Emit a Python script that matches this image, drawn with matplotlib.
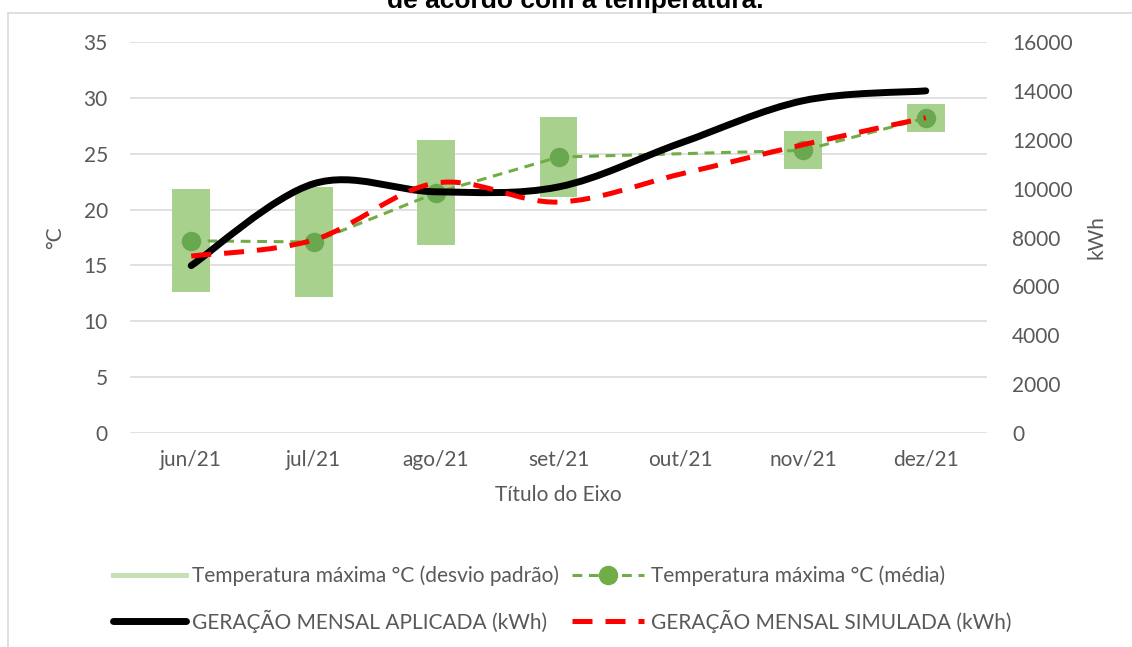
import matplotlib
matplotlib.use('Agg')
import matplotlib.pyplot as plt
import numpy as np
from matplotlib.path import Path
from matplotlib.patches import PathPatch, Rectangle
from matplotlib.lines import Line2D

# ---------------- data ----------------
months = ['jun/21', 'jul/21', 'ago/21', 'set/21', 'out/21', 'nov/21', 'dez/21']
temp_mean = [17.2, 17.1, 21.5, 24.7, np.nan, 25.3, 28.2]
temp_std = [4.6, 4.9, 4.7, 3.55, np.nan, 1.7, 1.25]
ger_aplicada = [6850, 10200, 9870, 10070, 11870, 13600, 14000]
ger_simulada = [7240, 7900, 10230, 9450, 10600, 11800, 12900]
temp_ticks = [0, 5, 10, 15, 20, 25, 30, 35]
kwh_ticks = [0, 2000, 4000, 6000, 8000, 10000, 12000, 14000, 16000]

lbl_std = 'Temperatura máxima °C (desvio padrão)'
lbl_mean = 'Temperatura máxima °C (média)'
lbl_apl = 'GERAÇÃO MENSAL APLICADA (kWh)'
lbl_sim = 'GERAÇÃO MENSAL SIMULADA (kWh)'

plt.rcParams['font.family'] = ['Lato', 'DejaVu Sans']

GRAY = '#595959'
GRID = '#D9D9D9'
BAR = '#A9D18E'
GREEN = '#70AD47'


def smooth_path(x, y):
    """Excel-like smoothed line as cubic Bezier segments."""
    x = np.asarray(x, float)
    y = np.asarray(y, float)
    n = len(x)
    verts = [(x[0], y[0])]
    codes = [Path.MOVETO]
    for i in range(n - 1):
        xp, yp = (x[i - 1], y[i - 1]) if i > 0 else (x[i], y[i])
        xn, yn = (x[i + 2], y[i + 2]) if i + 2 < n else (x[i + 1], y[i + 1])
        c1 = (x[i] + (x[i + 1] - xp) / 6.0, y[i] + (y[i + 1] - yp) / 6.0)
        c2 = (x[i + 1] - (xn - x[i]) / 6.0, y[i + 1] - (yn - y[i]) / 6.0)
        verts += [c1, c2, (x[i + 1], y[i + 1])]
        codes += [Path.CURVE4] * 3
    return Path(verts, codes)


W, H = 1132, 647
fig = plt.figure(figsize=(W / 100, H / 100), dpi=100)
ax = fig.add_axes([130 / W, 1 - 433 / H, 857 / W, 391 / H])
ax2 = ax.twinx()

x = np.arange(len(months))
mean = np.array(temp_mean, float)
std = np.array(temp_std, float)
ok = ~np.isnan(mean)

# std bars (mean +/- std)
ax.bar(x[ok], 2 * std[ok], bottom=mean[ok] - std[ok], width=0.31,
       color=BAR, zorder=2)
# mean line
ax.plot(x[ok], mean[ok], color=GREEN, lw=2.2, linestyle=(0, (3.2, 2.2)),
        marker='o', ms=13, markerfacecolor='#6AA84F', markeredgecolor='#6AA84F',
        zorder=3)

ax.set_xlim(-0.5, len(months) - 0.5)
ax.set_ylim(0, 35)
ax.set_yticks(temp_ticks)
ax.set_xticks(x)
ax.set_xticklabels(months)
ax.grid(axis='y', color=GRID, lw=1.1)
ax.set_axisbelow(True)

# generation lines on secondary axis
ax2.set_ylim(0, 16000)
ax2.set_yticks(kwh_ticks)
p_apl = PathPatch(smooth_path(x, ger_aplicada), fill=False, ec='black',
                  lw=5, capstyle='round', joinstyle='round', zorder=3)
p_sim = PathPatch(smooth_path(x, ger_simulada), fill=False, ec='#FF0000',
                  lw=3.6, linestyle=(0, (4, 2.6)), capstyle='butt', zorder=4)
ax2.add_patch(p_apl)
ax2.add_patch(p_sim)

for a in (ax, ax2):
    for s in a.spines.values():
        s.set_visible(False)
    a.tick_params(length=0, labelsize=15, labelcolor=GRAY)
ax.tick_params(axis='y', pad=16)
ax.tick_params(axis='x', pad=12)
ax2.tick_params(axis='y', pad=18)

ax.set_ylabel('°C', fontsize=15, color=GRAY, va='center')
ax.yaxis.set_label_coords((55 - 130) / 857, 0.5)
ax2.set_ylabel('kWh', fontsize=15, color=GRAY, va='center')
ax2.yaxis.set_label_coords((1097 - 130) / 857, 0.5)
ax.set_xlabel('Título do Eixo', fontsize=15, color=GRAY, va='center')
ax.xaxis.set_label_coords(0.5, (433 - 495) / 391)

# title (cut at top in reference)
fig.text(575 / W, 1 - 8 / H, 'de acordo com a temperatura.', ha='center',
         va='baseline', fontsize=19, fontweight='bold',
         family='Liberation Sans', color='black')

# chart border
fig.patches.append(Rectangle((8 / W, -0.05), 1.2, 1 - 13 / H + 0.05,
                             transform=fig.transFigure, fill=False,
                             ec=GRID, lw=1.2))

# legend
h_std = Line2D([], [], color='#C5E0B4', lw=3.6)
h_mean = Line2D([], [], color=GREEN, lw=2.2, linestyle=(0, (3.2, 2.2)),
                marker='o', ms=13)
h_apl = Line2D([], [], color='black', lw=5, solid_capstyle='round')
h_sim = Line2D([], [], color='#FF0000', lw=3.6, linestyle=(0, (4, 2.6)))
fig.legend([h_std, h_apl, h_mean, h_sim], [lbl_std, lbl_apl, lbl_mean, lbl_sim],
           ncol=2, loc='center', bbox_to_anchor=(562 / W, 1 - 599 / H),
           frameon=False, fontsize=15, labelcolor=GRAY, handlelength=3.5,
           handletextpad=0.3, columnspacing=0.6, labelspacing=1.12,
           numpoints=1)

fig.savefig('out.png', dpi=100)
